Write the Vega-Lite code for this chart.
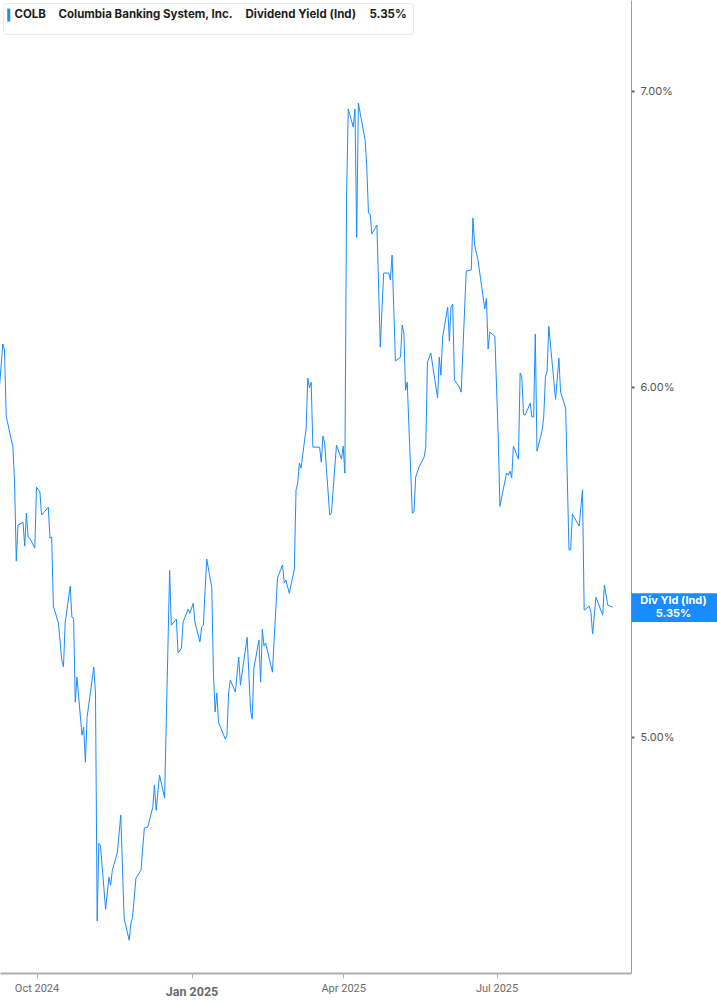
{
  "$schema": "https://vega.github.io/schema/vega-lite/v6.json",
  "description": "COLB dividend yield (indicated), Sep 2024 - Sep 2025",
  "width": 631,
  "height": 973,
  "autosize": "none",
  "padding": {"left": 0, "top": 0, "right": 86, "bottom": 32},
  "background": "white",
  "config": {
    "view": {"stroke": null},
    "font": "Inter",
    "legend": {
      "orient": "top-left",
      "offset": 3,
      "direction": "horizontal",
      "padding": 6,
      "fillColor": "white",
      "strokeColor": "#e8e8e8",
      "cornerRadius": 3,
      "labelFont": "Inter",
      "labelFontSize": 11.5,
      "labelColor": "#1c1c1c",
      "labelLimit": 400,
      "columnPadding": 0,
      "labelOffset": 0,
      "symbolType": "M0,-6.5V6.5",
      "symbolSize": 4,
      "symbolOffset": -6,
      "symbolStrokeWidth": 3
    }
  },
  "layer": [
    {
      "data": {"values": [
        {"d":"2024-09-09","v":6.0},{"d":"2024-09-11","v":6.136},{"d":"2024-09-12","v":6.117},{"d":"2024-09-13","v":5.91},
        {"d":"2024-09-17","v":5.815},{"d":"2024-09-18","v":5.707},{"d":"2024-09-19","v":5.48},{"d":"2024-09-20","v":5.584},
        {"d":"2024-09-23","v":5.592},{"d":"2024-09-24","v":5.523},{"d":"2024-09-25","v":5.619},{"d":"2024-09-26","v":5.549},
        {"d":"2024-09-27","v":5.546},{"d":"2024-09-30","v":5.517},{"d":"2024-10-01","v":5.695},{"d":"2024-10-03","v":5.681},
        {"d":"2024-10-04","v":5.613},{"d":"2024-10-08","v":5.636},{"d":"2024-10-09","v":5.546},{"d":"2024-10-10","v":5.549},
        {"d":"2024-10-11","v":5.353},{"d":"2024-10-14","v":5.306},{"d":"2024-10-16","v":5.205},{"d":"2024-10-17","v":5.186},
        {"d":"2024-10-18","v":5.306},{"d":"2024-10-21","v":5.409},{"d":"2024-10-22","v":5.322},{"d":"2024-10-23","v":5.32},
        {"d":"2024-10-24","v":5.092},{"d":"2024-10-25","v":5.159},{"d":"2024-10-28","v":5.005},{"d":"2024-10-29","v":5.026},
        {"d":"2024-10-30","v":4.935},{"d":"2024-10-31","v":5.052},{"d":"2024-11-04","v":5.186},{"d":"2024-11-05","v":5.116},
        {"d":"2024-11-06","v":4.543},{"d":"2024-11-07","v":4.731},{"d":"2024-11-08","v":4.724},{"d":"2024-11-11","v":4.571},
        {"d":"2024-11-13","v":4.648},{"d":"2024-11-14","v":4.629},{"d":"2024-11-15","v":4.665},{"d":"2024-11-18","v":4.709},
        {"d":"2024-11-20","v":4.801},{"d":"2024-11-22","v":4.55},{"d":"2024-11-25","v":4.498},{"d":"2024-11-26","v":4.538},
        {"d":"2024-11-27","v":4.552},{"d":"2024-11-29","v":4.646},{"d":"2024-12-02","v":4.665},{"d":"2024-12-04","v":4.769},
        {"d":"2024-12-06","v":4.771},{"d":"2024-12-09","v":4.821},{"d":"2024-12-10","v":4.877},{"d":"2024-12-11","v":4.813},
        {"d":"2024-12-13","v":4.902},{"d":"2024-12-16","v":4.844},{"d":"2024-12-19","v":5.454},{"d":"2024-12-20","v":5.3},
        {"d":"2024-12-23","v":5.317},{"d":"2024-12-24","v":5.224},{"d":"2024-12-26","v":5.237},{"d":"2024-12-27","v":5.309},
        {"d":"2024-12-30","v":5.345},{"d":"2024-12-31","v":5.333},{"d":"2025-01-02","v":5.361},{"d":"2025-01-03","v":5.309},
        {"d":"2025-01-06","v":5.254},{"d":"2025-01-07","v":5.295},{"d":"2025-01-08","v":5.3},{"d":"2025-01-10","v":5.486},
        {"d":"2025-01-13","v":5.406},{"d":"2025-01-14","v":5.169},{"d":"2025-01-15","v":5.066},{"d":"2025-01-16","v":5.116},
        {"d":"2025-01-17","v":5.039},{"d":"2025-01-21","v":4.995},{"d":"2025-01-22","v":5.005},{"d":"2025-01-23","v":5.116},
        {"d":"2025-01-24","v":5.151},{"d":"2025-01-27","v":5.119},{"d":"2025-01-29","v":5.213},{"d":"2025-01-30","v":5.137},
        {"d":"2025-02-03","v":5.267},{"d":"2025-02-05","v":5.071},{"d":"2025-02-06","v":5.047},{"d":"2025-02-07","v":5.183},
        {"d":"2025-02-10","v":5.259},{"d":"2025-02-11","v":5.145},{"d":"2025-02-12","v":5.289},{"d":"2025-02-13","v":5.243},
        {"d":"2025-02-14","v":5.251},{"d":"2025-02-18","v":5.172},{"d":"2025-02-21","v":5.432},{"d":"2025-02-24","v":5.469},
        {"d":"2025-02-25","v":5.418},{"d":"2025-02-26","v":5.426},{"d":"2025-02-28","v":5.389},{"d":"2025-03-03","v":5.457},
        {"d":"2025-03-04","v":5.687},{"d":"2025-03-05","v":5.707},{"d":"2025-03-06","v":5.767},{"d":"2025-03-07","v":5.752},
        {"d":"2025-03-10","v":5.873},{"d":"2025-03-11","v":6.028},{"d":"2025-03-12","v":5.997},{"d":"2025-03-13","v":6.015},
        {"d":"2025-03-14","v":5.815},{"d":"2025-03-18","v":5.815},{"d":"2025-03-19","v":5.77},{"d":"2025-03-20","v":5.849},
        {"d":"2025-03-21","v":5.827},{"d":"2025-03-24","v":5.613},{"d":"2025-03-25","v":5.619},{"d":"2025-03-28","v":5.821},
        {"d":"2025-03-31","v":5.779},{"d":"2025-04-01","v":5.818},{"d":"2025-04-02","v":5.737},{"d":"2025-04-03","v":6.624},
        {"d":"2025-04-04","v":6.935},{"d":"2025-04-07","v":6.87},{"d":"2025-04-08","v":6.935},{"d":"2025-04-09","v":6.487},
        {"d":"2025-04-10","v":6.956},{"d":"2025-04-14","v":6.824},{"d":"2025-04-15","v":6.728},{"d":"2025-04-16","v":6.569},
        {"d":"2025-04-17","v":6.566},{"d":"2025-04-18","v":6.498},{"d":"2025-04-21","v":6.528},{"d":"2025-04-23","v":6.126},
        {"d":"2025-04-25","v":6.367},{"d":"2025-04-28","v":6.367},{"d":"2025-04-29","v":6.344},{"d":"2025-04-30","v":6.427},
        {"d":"2025-05-02","v":6.082},{"d":"2025-05-05","v":6.094},{"d":"2025-05-06","v":6.197},{"d":"2025-05-07","v":6.171},
        {"d":"2025-05-08","v":5.99},{"d":"2025-05-09","v":6.015},{"d":"2025-05-12","v":5.619},{"d":"2025-05-13","v":5.622},
        {"d":"2025-05-14","v":5.725},{"d":"2025-05-16","v":5.755},{"d":"2025-05-19","v":5.785},{"d":"2025-05-20","v":5.815},
        {"d":"2025-05-21","v":6.078},{"d":"2025-05-23","v":6.107},{"d":"2025-05-27","v":5.966},{"d":"2025-05-28","v":6.094},
        {"d":"2025-05-29","v":6.037},{"d":"2025-05-30","v":6.158},{"d":"2025-06-02","v":6.255},{"d":"2025-06-03","v":6.145},
        {"d":"2025-06-04","v":6.255},{"d":"2025-06-05","v":6.265},{"d":"2025-06-06","v":6.022},{"d":"2025-06-09","v":6.0},
        {"d":"2025-06-10","v":5.984},{"d":"2025-06-13","v":6.374},{"d":"2025-06-16","v":6.377},{"d":"2025-06-17","v":6.552},
        {"d":"2025-06-18","v":6.46},{"d":"2025-06-20","v":6.41},{"d":"2025-06-24","v":6.249},{"d":"2025-06-25","v":6.284},
        {"d":"2025-06-26","v":6.12},{"d":"2025-06-27","v":6.174},{"d":"2025-06-30","v":6.161},{"d":"2025-07-02","v":5.846},
        {"d":"2025-07-03","v":5.639},{"d":"2025-07-05","v":5.689},{"d":"2025-07-07","v":5.737},{"d":"2025-07-08","v":5.731},
        {"d":"2025-07-09","v":5.743},{"d":"2025-07-10","v":5.722},{"d":"2025-07-11","v":5.818},{"d":"2025-07-14","v":5.779},
        {"d":"2025-07-15","v":6.044},{"d":"2025-07-16","v":6.031},{"d":"2025-07-17","v":5.916},{"d":"2025-07-18","v":5.913},
        {"d":"2025-07-21","v":5.95},{"d":"2025-07-22","v":5.907},{"d":"2025-07-23","v":5.907},{"d":"2025-07-24","v":6.168},
        {"d":"2025-07-25","v":5.803},{"d":"2025-07-28","v":5.864},{"d":"2025-07-29","v":5.907},{"d":"2025-07-30","v":6.031},
        {"d":"2025-07-31","v":6.05},{"d":"2025-08-01","v":6.193},{"d":"2025-08-05","v":5.962},{"d":"2025-08-07","v":6.091},
        {"d":"2025-08-08","v":5.984},{"d":"2025-08-11","v":5.935},{"d":"2025-08-13","v":5.512},{"d":"2025-08-14","v":5.512},
        {"d":"2025-08-15","v":5.616},{"d":"2025-08-19","v":5.581},{"d":"2025-08-21","v":5.687},{"d":"2025-08-22","v":5.342},
        {"d":"2025-08-25","v":5.353},{"d":"2025-08-26","v":5.336},{"d":"2025-08-27","v":5.276},{"d":"2025-08-29","v":5.378},
        {"d":"2025-09-02","v":5.328},{"d":"2025-09-03","v":5.412},{"d":"2025-09-05","v":5.356},{"d":"2025-09-08","v":5.35}
      ]},
      "mark": {"type": "line", "strokeWidth": 1, "clip": true},
      "encoding": {
        "x": {
          "field": "d",
          "type": "temporal",
          "scale": {
            "domain": [
              {"year": 2024, "month": 9, "date": 9, "hours": 8},
              {"year": 2025, "month": 9, "date": 18, "hours": 19}
            ]
          },
          "axis": {
            "title": null,
            "grid": false,
            "values": [
              {"year": 2024, "month": 10, "date": 1},
              {"year": 2025, "month": 1, "date": 1},
              {"year": 2025, "month": 4, "date": 1},
              {"year": 2025, "month": 7, "date": 1}
            ],
            "format": "%b %Y",
            "domainColor": "#b0b0b0",
            "domainWidth": 2,
            "tickColor": "#b0b0b0",
            "tickSize": 5,
            "labelFont": "Roboto",
            "labelColor": "#6b6b6b",
            "labelFontSize": {"condition": {"test": "month(datum.value) == 0", "value": 12.5}, "value": 11},
            "labelFontWeight": {"condition": {"test": "month(datum.value) == 0", "value": "bold"}, "value": "normal"},
            "labelPadding": {"condition": {"test": "month(datum.value) == 0", "value": 7}, "value": 4}
          }
        },
        "y": {
          "field": "v",
          "type": "quantitative",
          "scale": {"type": "log", "domain": [4.422, 7.34], "nice": false, "zero": false},
          "axis": {
            "orient": "right",
            "title": null,
            "grid": false,
            "values": [5, 6, 7],
            "labelExpr": "format(datum.value, '.2f') + '%'",
            "domainColor": "#9a9a9a",
            "domainWidth": 1,
            "tickColor": "#666666",
            "tickSize": 3,
            "tickWidth": 2,
            "labelFont": "Inter",
            "labelFontSize": 11,
            "labelColor": "#555555",
            "labelPadding": 6
          }
        },
        "color": {
          "datum": "COLB",
          "type": "nominal",
          "scale": {
            "domain": ["COLB", "Columbia Banking System, Inc.", "Dividend Yield (Ind)", "5.35%"],
            "range": ["#1a8cff", "transparent", "transparent", "transparent"]
          },
          "legend": {
            "title": null,
            "labelFontWeight": {"condition": {"test": "datum.value == 'Dividend Yield (Ind)'", "value": 500}, "value": "bold"}
          }
        }
      }
    },
    {
      "data": {"values": [{"tag": "Div Yld (Ind)\n5.35%", "v": 5.35}]},
      "mark": {"type": "rect", "color": "#1a8cff", "clip": false},
      "encoding": {
        "x": {"datum": {"year": 2025, "month": 9, "date": 19}, "type": "temporal"},
        "x2": {"datum": {"year": 2025, "month": 11, "date": 10}},
        "y": {"datum": 5.309, "type": "quantitative"},
        "y2": {"datum": 5.389}
      }
    },
    {
      "data": {"values": [{"tag": "Div Yld (Ind)\n5.35%", "v": 5.35}]},
      "mark": {
        "type": "text",
        "color": "white",
        "font": "Inter",
        "fontSize": 11,
        "fontWeight": "bold",
        "lineBreak": "\n",
        "lineHeight": 13,
        "align": "center",
        "baseline": "middle",
        "dy": -6,
        "clip": false
      },
      "encoding": {
        "x": {"datum": {"year": 2025, "month": 10, "date": 14}, "type": "temporal"},
        "y": {"field": "v", "type": "quantitative"},
        "text": {"field": "tag"}
      }
    }
  ]
}
